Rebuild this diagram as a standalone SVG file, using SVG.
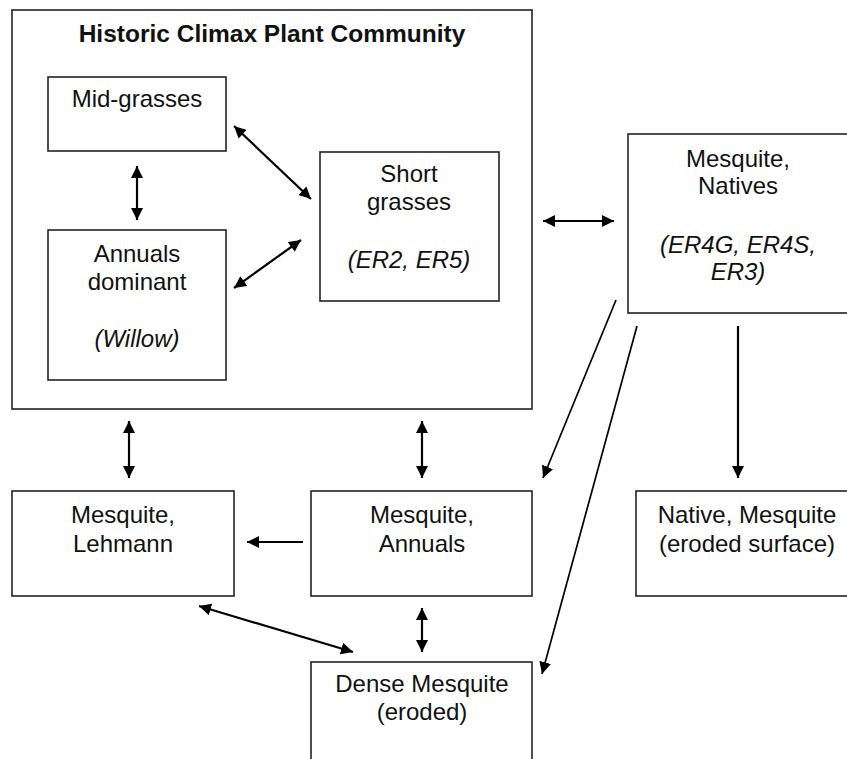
<svg xmlns="http://www.w3.org/2000/svg" width="847" height="759" viewBox="0 0 847 759">
<defs>
<marker id="ah" markerUnits="userSpaceOnUse" markerWidth="13" markerHeight="12" refX="12" refY="6" orient="auto-start-reverse">
<path d="M0,0 L12,6 L0,12 z" fill="#000"/>
</marker>
<style>
.box{fill:#fff;stroke:#222;stroke-width:1.6}
.t{font-family:"Liberation Sans",Arial,sans-serif;font-size:24px;fill:#111;text-anchor:middle}
.i{font-style:italic}
.b{font-weight:bold;font-size:24.5px}
.c{stroke:#000;stroke-width:2.2;fill:none}
.c1{marker-end:url(#ah)}
.c2{marker-start:url(#ah);marker-end:url(#ah)}
</style>
</defs>
<rect width="847" height="759" fill="#fff"/>
<g id="hcpc">
<rect class="box" x="12" y="10" width="520" height="399"/>
<text class="t b" x="272" y="42">Historic Climax Plant Community</text>
</g>
<g id="midgrasses">
<rect class="box" x="48" y="77" width="178" height="74"/>
<text class="t" x="137" y="107">Mid-grasses</text>
</g>
<g id="annuals">
<rect class="box" x="48" y="230" width="178" height="150"/>
<text class="t" x="137" y="262">Annuals</text>
<text class="t" x="137" y="290">dominant</text>
<text class="t i" x="137" y="347">(Willow)</text>
</g>
<g id="shortgrasses">
<rect class="box" x="320" y="152" width="179" height="149"/>
<text class="t" x="409" y="182">Short</text>
<text class="t" x="409" y="210">grasses</text>
<text class="t i" x="409" y="268">(ER2, ER5)</text>
</g>
<g id="mesquitenatives">
<rect class="box" x="628" y="134" width="230" height="179"/>
<text class="t" x="738" y="167">Mesquite,</text>
<text class="t" x="738" y="194">Natives</text>
<text class="t i" x="738" y="253">(ER4G, ER4S,</text>
<text class="t i" x="738" y="280">ER3)</text>
</g>
<g id="mesquitelehmann">
<rect class="box" x="12" y="491" width="222" height="105"/>
<text class="t" x="123" y="523">Mesquite,</text>
<text class="t" x="123" y="552">Lehmann</text>
</g>
<g id="mesquiteannuals">
<rect class="box" x="311" y="491" width="221" height="105"/>
<text class="t" x="422" y="523">Mesquite,</text>
<text class="t" x="422" y="552">Annuals</text>
</g>
<g id="nativemesquite">
<rect class="box" x="636" y="491" width="222" height="105"/>
<text class="t" x="747" y="523">Native, Mesquite</text>
<text class="t" x="747" y="552">(eroded surface)</text>
</g>
<g id="densemesquite">
<rect class="box" x="311" y="662" width="221" height="110"/>
<text class="t" x="422" y="692">Dense Mesquite</text>
<text class="t" x="422" y="720">(eroded)</text>
</g>
<g id="connectors">
<line class="c c2" x1="137" y1="166" x2="137" y2="220"/>
<line class="c c2" x1="234" y1="126" x2="311" y2="199"/>
<line class="c c2" x1="234" y1="288" x2="301" y2="240"/>
<line class="c c2" x1="543" y1="221" x2="614" y2="221"/>
<line class="c c2" x1="129" y1="421" x2="129" y2="478"/>
<line class="c c2" x1="422" y1="421" x2="422" y2="478"/>
<line class="c c1" x1="303" y1="542" x2="247" y2="542"/>
<line class="c c2" x1="199" y1="606" x2="353" y2="652"/>
<line class="c c2" x1="422" y1="608" x2="422" y2="652"/>
<line class="c c1" style="stroke-width:1.7" x1="616" y1="300" x2="543" y2="478"/>
<line class="c c1" style="stroke-width:1.7" x1="637" y1="326" x2="542" y2="674"/>
<line class="c c1" x1="738" y1="326" x2="738" y2="478"/>
</g>
</svg>
